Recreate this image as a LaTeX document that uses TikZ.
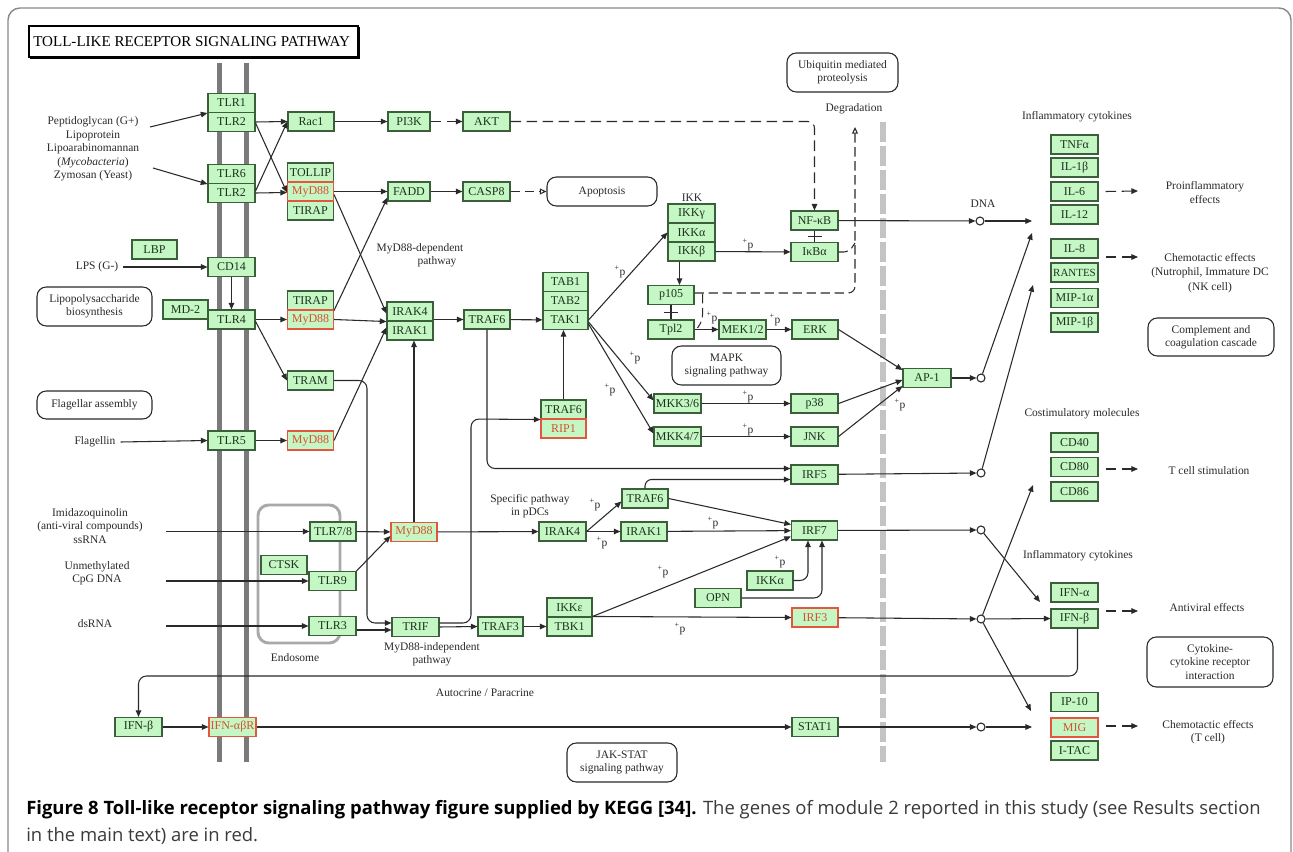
\documentclass[tikz,border=0pt]{standalone}
\usepackage{fontspec}
\setmainfont{Liberation Serif}
\newfontfamily\capfont{Open Sans}
\usetikzlibrary{arrows.meta,calc}
\definecolor{bfill}{HTML}{C4F7C4}
\definecolor{bdraw}{HTML}{3B5E3B}
\definecolor{btext}{HTML}{1E321E}
\definecolor{rdraw}{HTML}{E4573F}
\definecolor{rtext}{HTML}{D9502F}
\definecolor{lcol}{HTML}{2A2A2A}
\definecolor{tcol}{HTML}{2A2A2A}
\definecolor{memb}{HTML}{7A7A7A}
\definecolor{nucl}{HTML}{C4C4C4}
\definecolor{endo}{HTML}{A9A9A9}
\definecolor{framec}{HTML}{8A8A8A}
\definecolor{capgray}{HTML}{3A3A3A}
\newcommand\bfnt{\fontsize{9}{10}\selectfont}
\newcommand\lfnt{\fontsize{8.6}{10}\selectfont}
\begin{document}
\begin{tikzpicture}[x=0.75pt,y=-0.75pt,
 gb/.style={draw=bdraw,fill=bfill,line width=0.8pt,minimum height=14.25pt,inner sep=0pt,text=btext,font=\bfnt},
 rb/.style={gb,draw=rdraw,text=rtext},
 wd/.style={minimum width=#1*0.75pt},
 ht/.style={minimum height=#1*0.75pt},
 lbl/.style={text=tcol,font=\lfnt,align=center,inner sep=0pt},
 pl/.style={text=tcol,font=\lfnt,inner sep=0pt},
 ar/.style={draw=lcol,line width=0.8pt,-{Triangle[length=5pt,width=4.2pt]}},
 ln/.style={draw=lcol,line width=0.8pt},
 dar/.style={ar,dash pattern=on 8pt off 4pt},
 dln/.style={ln,dash pattern=on 7pt off 3.5pt},
 oar/.style={draw=lcol,line width=0.8pt,dash pattern=on 7pt off 3.5pt,-{Triangle[open,length=5pt,width=4.5pt]}},
 pbox/.style={draw=tcol,line width=0.8pt,rounded corners=7pt,fill=white,text=tcol,font=\lfnt,align=center,inner sep=0pt},
 dot/.style={circle,draw=lcol,fill=white,line width=0.8pt,minimum size=6pt,inner sep=0pt},
 rc/.style={rounded corners=6pt},
]
\useasboundingbox (0,0) rectangle (1293,852);
\fill[white] (0,0) rectangle (1293,852);
% frame
\draw[framec,line width=1.1pt,rounded corners=9pt] (8,853) -- (8,8) -- (1291,8) -- (1291,853);
% title
\draw[black,line width=1.4pt] (29,26) rectangle (358,57);
\draw[black,line width=2pt] (30,57.5) -- (358.5,57.5) -- (358.5,27);
\node[anchor=west,inner sep=0pt,font=\fontsize{11.3}{12}\selectfont] (title) at (33,42) {TOLL-LIKE RECEPTOR SIGNALING PATHWAY};
% membrane, nucleus, endosome
\draw[memb,line width=3.75pt] (219.5,63) -- (219.5,762);
\draw[memb,line width=3.75pt] (246.5,63) -- (246.5,762);
\draw[nucl,line width=4.5pt,dash pattern=on 15pt off 3pt] (883,122) -- (883,762);
\draw[endo,line width=2.2pt,rounded corners=8pt] (258,505) rectangle (340,643);

% boxes
\node[gb,wd=47] (tlr1) at (231.5,103) {TLR1};
\node[gb,wd=47] (tlr2a) at (231.5,122) {TLR2};
\node[gb,wd=47] (tlr6) at (231.5,174) {TLR6};
\node[gb,wd=47] (tlr2b) at (231.5,193) {TLR2};
\node[gb,wd=46] (rac1) at (311,121.5) {Rac1};
\node[gb,wd=42] (pi3k) at (409,121.5) {PI3K};
\node[gb,wd=47] (akt) at (486.5,121.5) {AKT};
\node[gb,wd=46] (tollip) at (310.5,172.5) {TOLLIP};
\node[gb,wd=46] (tirap1) at (310.5,210.5) {TIRAP};
\node[rb,wd=46] (myd1) at (310.5,191.5) {MyD88};
\node[gb,wd=42] (fadd) at (409,191.5) {FADD};
\node[gb,wd=47] (casp8) at (486.5,191.5) {CASP8};
\node[gb,wd=45] (lbp) at (154.5,249.5) {LBP};
\node[gb,wd=47] (cd14) at (231.5,267) {CD14};
\node[gb,wd=45] (md2) at (185.5,309.5) {MD-2};
\node[gb,wd=47] (tlr4) at (231.5,319.5) {TLR4};
\node[gb,wd=46] (tirap2) at (310.5,300.5) {TIRAP};
\node[rb,wd=46] (myd2) at (310.5,319.5) {MyD88};
\node[gb,wd=46] (tram) at (310.5,380.5) {TRAM};
\node[gb,wd=46] (irak4) at (410,311.5) {IRAK4};
\node[gb,wd=46] (irak1) at (410,330.5) {IRAK1};
\node[gb,wd=47] (tlr5) at (231.5,440.5) {TLR5};
\node[rb,wd=46] (myd3) at (310.5,440.5) {MyD88};
\node[gb,wd=46] (traf6) at (487,319.5) {TRAF6};
\node[gb,wd=45] (tab1) at (565.5,282) {TAB1};
\node[gb,wd=45] (tab2) at (565.5,301) {TAB2};
\node[gb,wd=45] (tak1) at (565.5,320) {TAK1};
\node[gb,wd=45] (traf6b) at (563.5,409.5) {TRAF6};
\node[rb,wd=45] (rip1) at (563.5,428.5) {RIP1};
\node[gb,wd=47] (ikkg) at (691.5,213.5) {IKKγ};
\node[gb,wd=47] (ikka) at (691.5,232.5) {IKKα};
\node[gb,wd=47] (ikkb) at (691.5,251.5) {IKKβ};
\node[gb,wd=47] (nfkb) at (814.5,220.5) {NF-κB};
\node[gb,wd=47] (ikba) at (814.5,252) {IκBα};
\node[gb,wd=46] (p105) at (671,295) {p105};
\node[gb,wd=46] (tpl2) at (671,329.5) {Tpl2};
\node[gb,wd=47] (mek) at (742.5,329.5) {MEK1/2};
\node[gb,wd=46] (erk) at (815,329.5) {ERK};
\node[gb,wd=47] (mkk36) at (677.5,403.5) {MKK3/6};
\node[gb,wd=47] (mkk47) at (677.5,436.5) {MKK4/7};
\node[gb,wd=47] (p38) at (814.5,403.5) {p38};
\node[gb,wd=47] (jnk) at (814.5,436.5) {JNK};
\node[gb,wd=48] (ap1) at (927,378) {AP-1};
\node[gb,wd=47] (irf5) at (814.5,474.5) {IRF5};
\node[gb,wd=46] (traf6c) at (645,498.5) {TRAF6};
\node[gb,wd=47] (irak4b) at (562.5,531.5) {IRAK4};
\node[gb,wd=46] (irak1b) at (644,531.5) {IRAK1};
\node[gb,wd=46] (irf7) at (814.5,530.5) {IRF7};
\node[gb,wd=46] (tlr78) at (333,531.5) {TLR7/8};
\node[rb,wd=46] (myd4) at (414,532) {MyD88};
\node[gb,wd=46] (ctsk) at (284,565) {CTSK};
\node[gb,wd=47] (tlr9) at (332.5,581) {TLR9};
\node[gb,wd=47] (tlr3) at (332.5,626) {TLR3};
\node[gb,wd=47] (trif) at (415.5,627) {TRIF};
\node[gb,wd=45] (traf3) at (500.5,626.5) {TRAF3};
\node[gb,wd=45] (ikke) at (569.5,607.5) {IKKε};
\node[gb,wd=45] (tbk1) at (569.5,626.5) {TBK1};
\node[gb,wd=46] (ikka2) at (770,580.5) {IKKα};
\node[gb,wd=46] (opn) at (718,598) {OPN};
\node[rb,wd=46] (irf3) at (815,617.5) {IRF3};
\node[gb,wd=47] (ifnbl) at (138.5,727) {IFN-β};
\node[rb,wd=47] (ifnr) at (232.5,727) {IFN-αβR};
\node[gb,wd=46] (stat1) at (815,727) {STAT1};
% cytokines
\node[gb,wd=47] (tnfa) at (1074.5,144.5) {TNFα};
\node[gb,wd=47] (il1b) at (1074.5,167.5) {IL-1β};
\node[gb,wd=47] (il6) at (1074.5,191.5) {IL-6};
\node[gb,wd=47] (il12) at (1074.5,214.5) {IL-12};
\node[gb,wd=47] (il8) at (1074.5,248.5) {IL-8};
\node[gb,wd=47,font=\fontsize{8.2}{9}\selectfont] (rantes) at (1074.5,272.5) {RANTES};
\node[gb,wd=47] (mip1a) at (1074.5,298) {MIP-1α};
\node[gb,wd=47] (mip1b) at (1074.5,322.5) {MIP-1β};
\node[gb,wd=47] (cd40) at (1074.5,442.5) {CD40};
\node[gb,wd=47] (cd80) at (1074.5,467) {CD80};
\node[gb,wd=47] (cd86) at (1074.5,491.5) {CD86};
\node[gb,wd=47] (ifna) at (1074.5,592.5) {IFN-α};
\node[gb,wd=47] (ifnb) at (1074.5,618.5) {IFN-β};
\node[gb,wd=47] (ip10) at (1074.5,702) {IP-10};
\node[gb,wd=47] (itac) at (1074.5,750.5) {I-TAC};
\node[rb,wd=47] (mig) at (1074.5,727.5) {MIG};
% circles
\node[dot] (cdna) at (980,221) {};
\node[dot] (cap1) at (981,378) {};
\node[dot] (cirf5) at (981,473) {};
\node[dot] (cirf7) at (981,530) {};
\node[dot] (cirf3) at (981,619) {};
\node[dot] (cstat) at (981,727) {};
% pathway boxes
\node[pbox,wd=111,ht=39] (ubiq) at (842.5,72.5) {Ubiquitin mediated\\proteolysis};
\node[pbox,wd=110,ht=29] (apopt) at (602,191.5) {Apoptosis};
\node[pbox,wd=115,ht=39] (lpsb) at (94.5,306.5) {Lipopolysaccharide\\biosynthesis};
\node[pbox,wd=115,ht=28] (flagb) at (94.5,405) {Flagellar assembly};
\node[pbox,wd=109,ht=39] (mapk) at (726.5,365.5) {MAPK\\signaling pathway};
\node[pbox,wd=126,ht=38] (compl) at (1211,337) {Complement and\\coagulation cascade};
\node[pbox,wd=126,ht=50] (cytok) at (1210,662) {Cytokine-\\cytokine receptor\\interaction};
\node[pbox,wd=110,ht=39] (jak) at (622,762.5) {JAK-STAT\\signaling pathway};
% labels
\node[lbl,font=\fontsize{8.6}{10.1}\selectfont] (pepti) at (93,149) {Peptidoglycan (G+)\\Lipoprotein\\Lipoarabinomannan\\(\textit{Mycobacteria})\\Zymosan (Yeast)};
\node[pl] (lps) at (97,267) {LPS (G-)};
\node[pl] (flgn) at (95,442) {Flagellin};
\node[lbl] (imid) at (90,526) {Imidazoquinolin\\(anti-viral compounds)\\ssRNA};
\node[lbl] (cpg) at (97,573.5) {Unmethylated\\CpG DNA};
\node[pl] (dsrna) at (95,624) {dsRNA};
\node[pl] (mdd1) at (420,249) {MyD88-dependent};
\node[pl] (mdd2) at (437,262) {pathway};
\node[pl] (ikkl) at (692,198) {IKK};
\node[pl] (degr) at (854,109) {Degradation};
\node[pl] (dna) at (983,204) {DNA};
\node[pl] (infl1) at (1077,117) {Inflammatory cytokines};
\node[lbl] (proin) at (1205,192.5) {Proinflammatory\\effects};
\node[lbl,font=\fontsize{8.6}{11}\selectfont] (chem1) at (1210,273) {Chemotactic effects\\(Nutrophil, Immature DC\\(NK cell)};
\node[pl] (costim) at (1082,414) {Costimulatory molecules};
\node[pl] (tcell) at (1209,471) {T cell stimulation};
\node[pl] (infl2) at (1078,556) {Inflammatory cytokines};
\node[pl] (antiv) at (1207,608) {Antiviral effects};
\node[lbl] (chem2) at (1208,732) {Chemotactic effects\\(T cell)};
\node[lbl] (spec) at (530,506) {Specific pathway\\in pDCs};
\node[lbl] (mdi) at (432,654.5) {MyD88-independent\\pathway};
\node[pl] (endol) at (295,658) {Endosome};
\node[pl] (auto) at (485,693) {Autocrine / Paracrine};
% +p labels
\node[pl] (pp1) at (620,272) {\textsuperscript{+}p};
\node[pl] (pp2) at (635,358) {\textsuperscript{+}p};
\node[pl] (pp3) at (610,390) {\textsuperscript{+}p};
\node[pl] (pp4) at (748,397) {\textsuperscript{+}p};
\node[pl] (pp5) at (748,430) {\textsuperscript{+}p};
\node[pl] (pp6) at (748,245) {\textsuperscript{+}p};
\node[pl] (pp7) at (712,318) {\textsuperscript{+}p};
\node[pl] (pp8) at (775,320) {\textsuperscript{+}p};
\node[pl] (pp9) at (900,405) {\textsuperscript{+}p};
\node[pl] (pp10) at (595,505) {\textsuperscript{+}p};
\node[pl] (pp11) at (602,543) {\textsuperscript{+}p};
\node[pl] (pp12) at (713,523) {\textsuperscript{+}p};
\node[pl] (pp13) at (663,572) {\textsuperscript{+}p};
\node[pl] (pp14) at (680,629) {\textsuperscript{+}p};
\node[pl] (pp15) at (780,562) {\textsuperscript{+}p};
% free ends
\coordinate (pa) at (150,127);
\coordinate (pb) at (153,168);
\coordinate (imc) at (166,531.5);
\coordinate (cpc) at (166,581);
\coordinate (dsc) at (166,626);
\coordinate (e1) at (1032,221);
\coordinate (e2) at (1032,233);
\coordinate (e3) at (1033,285);
\coordinate (e4) at (1040,602);
\coordinate (e5) at (1033,485);
\coordinate (e6) at (1031,711);
\coordinate (e7) at (1032,727);
\coordinate (degc) at (855,127);
\coordinate (f1) at (1138,191);
\coordinate (f2) at (1138,257);
\coordinate (f3) at (1138,469);
\coordinate (f4) at (1138,611);
\coordinate (f5) at (1138,726);

% connectors
\draw[ar] (pa) -- (tlr1.south west);
\draw[ar] (pb) -- (tlr6.south west);
\draw[ar] (tlr2a.east) -- (rac1.west);
\draw[ar] ($(tlr2a.east)+(0,1)$) -- ($(myd1.west)+(0,1)$);
\draw[ar] (tlr2b.east) -- ($(myd1.west)+(0,1)$);
\draw[ar] ($(tlr2b.east)+(0,-2)$) -- (rac1.west);
\draw[ar] (rac1) -- (pi3k);
\draw[dar] (pi3k) -- (akt);
\draw[dar,rounded corners=5pt] (akt.east) -- (nfkb.north |- akt.east) -- (nfkb.north);
\draw[ar] (myd1) -- (fadd);
\draw[ar] (fadd) -- (casp8);
\draw[oar] (casp8) -- (apopt);
\draw[ar] ($(myd1.east)+(0,3)$) -- ($(irak4.west)+(0,2)$);
\draw[ar] (tirap2.south east) -- ($(fadd.south west)+(0,-4)$);
\draw[ar] (cd14) -- (tlr4);
\draw[ar] (tlr4) -- (myd2);
\draw[ar] ($(tlr4.east)+(0,2)$) -- (tram.west);
\draw[ar] (myd2.east) -- (irak4.south west);
\draw[ar] (myd3.east) -- ($(irak1.west)+(0,-3)$);
\draw[ar,rc] (tram.east) -- (367,380.5) -- (367,623) -- ($(trif.west)+(0,-4)$);
\draw[ar] ($(tlr3.east)+(0,4)$) -- ($(trif.west)+(0,3)$);
\draw[ar] ($(lps.east)+(5,0)$) -- (cd14.west);
\draw[ar] ($(flgn.east)+(5,0)$) -- (tlr5.west);
\draw[ar] (imc) -- (tlr78.west);
\draw[ar] (cpc) -- (tlr9.west);
\draw[ar] (dsc) -- (tlr3.west);
\draw[ar] (tlr5) -- (myd3);
\draw[ar] (tlr78) -- (myd4);
\draw[ar] (tlr9.north east) -- ($(myd4.west)+(0,4)$);
\draw[ar] (myd4.north) -- (myd4.north |- irak1.south);
\draw[ar] (traf6.west -| irak1.east) -- (traf6.west);
\draw[ar] (traf6) -- (tak1);
\draw[ar,rc] (traf6.south) -- (487,468.5) -- ($(irf5.west)+(0,-6)$);
\draw[ar] (traf6b.north) -- (traf6b.north |- tak1.south);
\draw[ar,rc] ($(trif.east)+(0,-4)$) -- (471,623) -- (471,419) -- (traf6b.south west);
\draw[ar] (trif.east) -- (traf3.west);
\draw[ar] (traf3) -- (tbk1);
\draw[ar] (tak1.east) -- (ikka.west);
\draw[ar] ($(tak1.east)+(0,2)$) -- ($(mkk36.west)+(0,-3)$);
\draw[ar] ($(tak1.east)+(0,4)$) -- ($(mkk47.west)+(0,-3)$);
\draw[ar] (mkk36) -- (p38);
\draw[ar] (mkk47) -- (jnk);
\draw[ar] (ikkb) -- (ikba);
\draw[ar] ($(ikkb.south)+(-12,0)$) -- ($(p105.north)+(8.5,0)$);
\draw[ln] (p105) -- (tpl2);
\draw[ln] ($(p105.south)!0.5!(tpl2.north)+(-7,0)$) -- ($(p105.south)!0.5!(tpl2.north)+(7,0)$);
\draw[ln] (nfkb) -- (ikba);
\draw[ln] ($(nfkb.south)!0.5!(ikba.north)+(-7,0)$) -- ($(nfkb.south)!0.5!(ikba.north)+(7,0)$);
\draw[ar] (tpl2) -- (mek);
\draw[ar] (mek) -- (erk);
\draw[ar] (erk.east) -- ($(ap1.west)+(0,-8)$);
\draw[ar] (p38.east) -- ($(ap1.west)+(0,2)$);
\draw[ar] (jnk.east) -- ($(ap1.west)+(0,8)$);
\draw[ar] (ap1) -- (cap1);
\draw[ar] (nfkb) -- (cdna);
\draw[ar] (cdna) -- (e1);
\draw[ar] (cap1) -- (e2);
\draw[ar] (irf5) -- (cirf5);
\draw[ar] (cirf5) -- (e3);
\draw[ar] (irf7) -- (cirf7);
\draw[ar] (cirf7) -- (e4);
\draw[ar] (irf3) -- (cirf3);
\draw[ar] (cirf3) -- (ifnb.west);
\draw[ar] (cirf3) -- (e5);
\draw[ar] (cirf3) -- (e6);
\draw[ar] (stat1) -- (cstat);
\draw[ar] (cstat) -- (e7);
\draw[ar] (ifnr) -- (stat1);
\draw[ar] (ifnbl) -- (ifnr);
\draw[ar,rc] ($(ifnb.south)+(3,0)$) -- (1077.5,676) -- (138.5,676) -- (ifnbl.north);
\draw[ar] (myd4) -- (irak4b);
\draw[ar] (irak4b.east) -- ($(traf6c.west)+(0,3)$);
\draw[ar] (irak4b) -- (irak1b);
\draw[ar] (traf6c.east) -- ($(irf7.west)+(0,-6)$);
\draw[ar] (irak1b) -- (irf7);
\draw[ar,rounded corners=5pt] (traf6c.north) -- (645,479.5) -- ($(irf5.west)+(0,5)$);
\draw[ar] (tbk1.north east) -- ($(irf7.west)+(0,6)$);
\draw[ar] (tbk1.north east) -- (irf3.west);
\draw[ar,rc] (ikka2.east) -- (808,580.5) -- ($(irf7.south)+(-6.5,0)$);
\draw[ar,rc] (opn.east) -- (822,598) -- ($(irf7.south)+(7.5,0)$);
% degradation dashed
\draw[oar,rounded corners=5pt] ($(p105.east)+(0,-2)$) -- (855,293) -- (degc);
\draw[dln,rounded corners=4pt] (ikba.east) -- (849,252) -- (855,243);
\draw[dln,rounded corners=4pt] ($(p105.east)+(8,-1)$) -- ++(0,26) -- ++(-5,8);
% dashed effect arrows
\draw[dar] ($(il6.east)+(7,0)$) -- (f1);
\draw[dar] ($(il8.east)+(7,8.5)$) -- (f2);
\draw[dar] ($(cd80.east)+(7,2)$) -- (f3);
\draw[dar] ($(ifnb.east)+(7,-7.5)$) -- (f4);
\draw[dar] ($(mig.east)+(7,-1.5)$) -- (f5);

% caption
\node[anchor=base west,inner sep=0pt,text=capgray,font=\capfont\fontsize{13.83}{16}\selectfont] (capa) at (26,814) {{\color{black}\bfseries Figure 8 Toll-like receptor signaling pathway figure supplied by KEGG [34].} The genes of module 2 reported in this study (see Results section};
\node[anchor=base west,inner sep=0pt,text=capgray,font=\capfont\fontsize{13.83}{16}\selectfont] (capb) at (26,841) {in the main text) are in red.};
\end{tikzpicture}
\end{document}
